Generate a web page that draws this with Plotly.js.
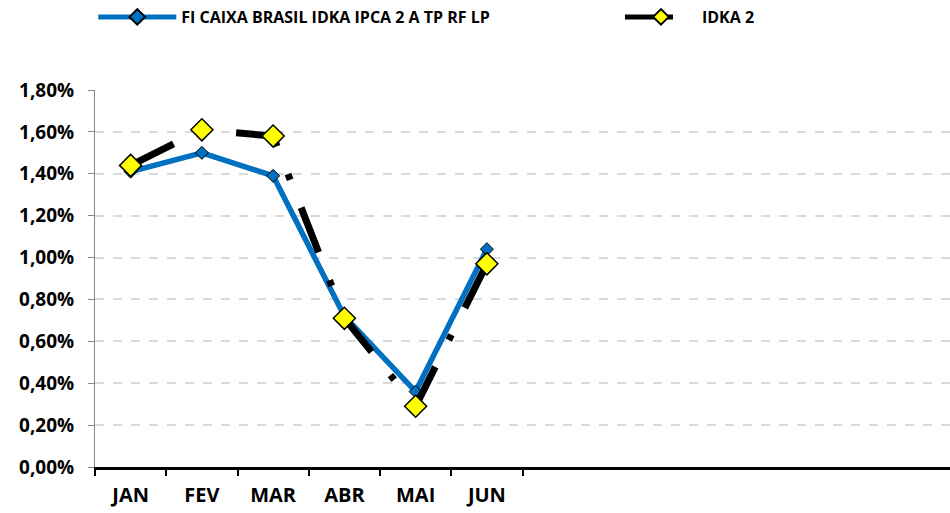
<!DOCTYPE html>
<html><head><meta charset="utf-8">
<script src="https://cdn.plot.ly/plotly-3.0.1.min.js"></script>
<style>body{margin:0;background:#fff}#c{width:950px;height:513px}</style>
</head><body><div id="c"></div>
<script>
const months = ['JAN','FEV','MAR','ABR','MAI','JUN'];
const fundName = 'FI CAIXA BRASIL IDKA IPCA 2 A TP RF LP';
const fundValues = [1.41, 1.50, 1.39, 0.72, 0.36, 1.04];
const benchName = 'IDKA 2';
const benchValues = [1.44, 1.61, 1.58, 0.71, 0.29, 0.97];
const yTicks = [0,0.2,0.4,0.6,0.8,1.0,1.2,1.4,1.6,1.8];
const yTickText = ['0,00%','0,20%','0,40%','0,60%','0,80%','1,00%','1,20%','1,40%','1,60%','1,80%'];

const F = '"Open Sans", sans-serif';
const data = [
  {x: months, y: fundValues, name: fundName, type:'scatter', mode:'lines+markers',
   legend:'legend',
   line:{color:'#0070C0', width:5.5},
   marker:{symbol:'diamond', size:10, color:'#0070C0', line:{color:'#000', width:1}}},
  {x: months, y: benchValues, name: benchName, type:'scatter', mode:'lines+markers',
   legend:'legend2',
   line:{color:'#000', width:7, dash:'48px,30px,6px,30px'},
   marker:{symbol:'diamond', size:17, color:'#FFFF00', line:{color:'#000', width:1.5}}}
];
const legFont = {family:F, size:16, color:'#000', weight:'bold'};
const layout = {
  width:950, height:513,
  margin:{l:95, r:0, t:90, b:46},
  paper_bgcolor:'#fff', plot_bgcolor:'#fff',
  showlegend:true,
  legend:{orientation:'h', x:-0.002, xanchor:'left', y:1.0, yref:'container', yanchor:'top',
    font:legFont, itemwidth:78, itemsizing:'constant'},
  legend2:{orientation:'h', x:0.614, xanchor:'left', y:1.0, yref:'container', yanchor:'top',
    font:legFont, itemwidth:72, itemsizing:'constant'},
  xaxis:{type:'category', range:[-0.5, 11.5], tickson:'boundaries', ticks:'outside',
    ticklen:6, tickwidth:2, tickcolor:'#000', showline:true, linecolor:'#000', linewidth:3,
    showgrid:false, zeroline:false, ticklabelstandoff:8,
    tickfont:{family:F, size:20, color:'#000', weight:'bold'}},
  yaxis:{range:[0,1.8], tickvals:yTicks, ticktext:yTickText, ticks:'outside', ticklen:6,
    tickcolor:'#868686', tickwidth:1, showline:true, linecolor:'#868686', linewidth:1,
    showgrid:true, gridcolor:'#d9d9d9', griddash:'dash', gridwidth:1.5, zeroline:false,
    ticklabelstandoff:10,
    tickfont:{family:F, size:19, color:'#000', weight:'bold'}}
};
Plotly.newPlot('c', data, layout, {displayModeBar:false});
</script></body></html>
